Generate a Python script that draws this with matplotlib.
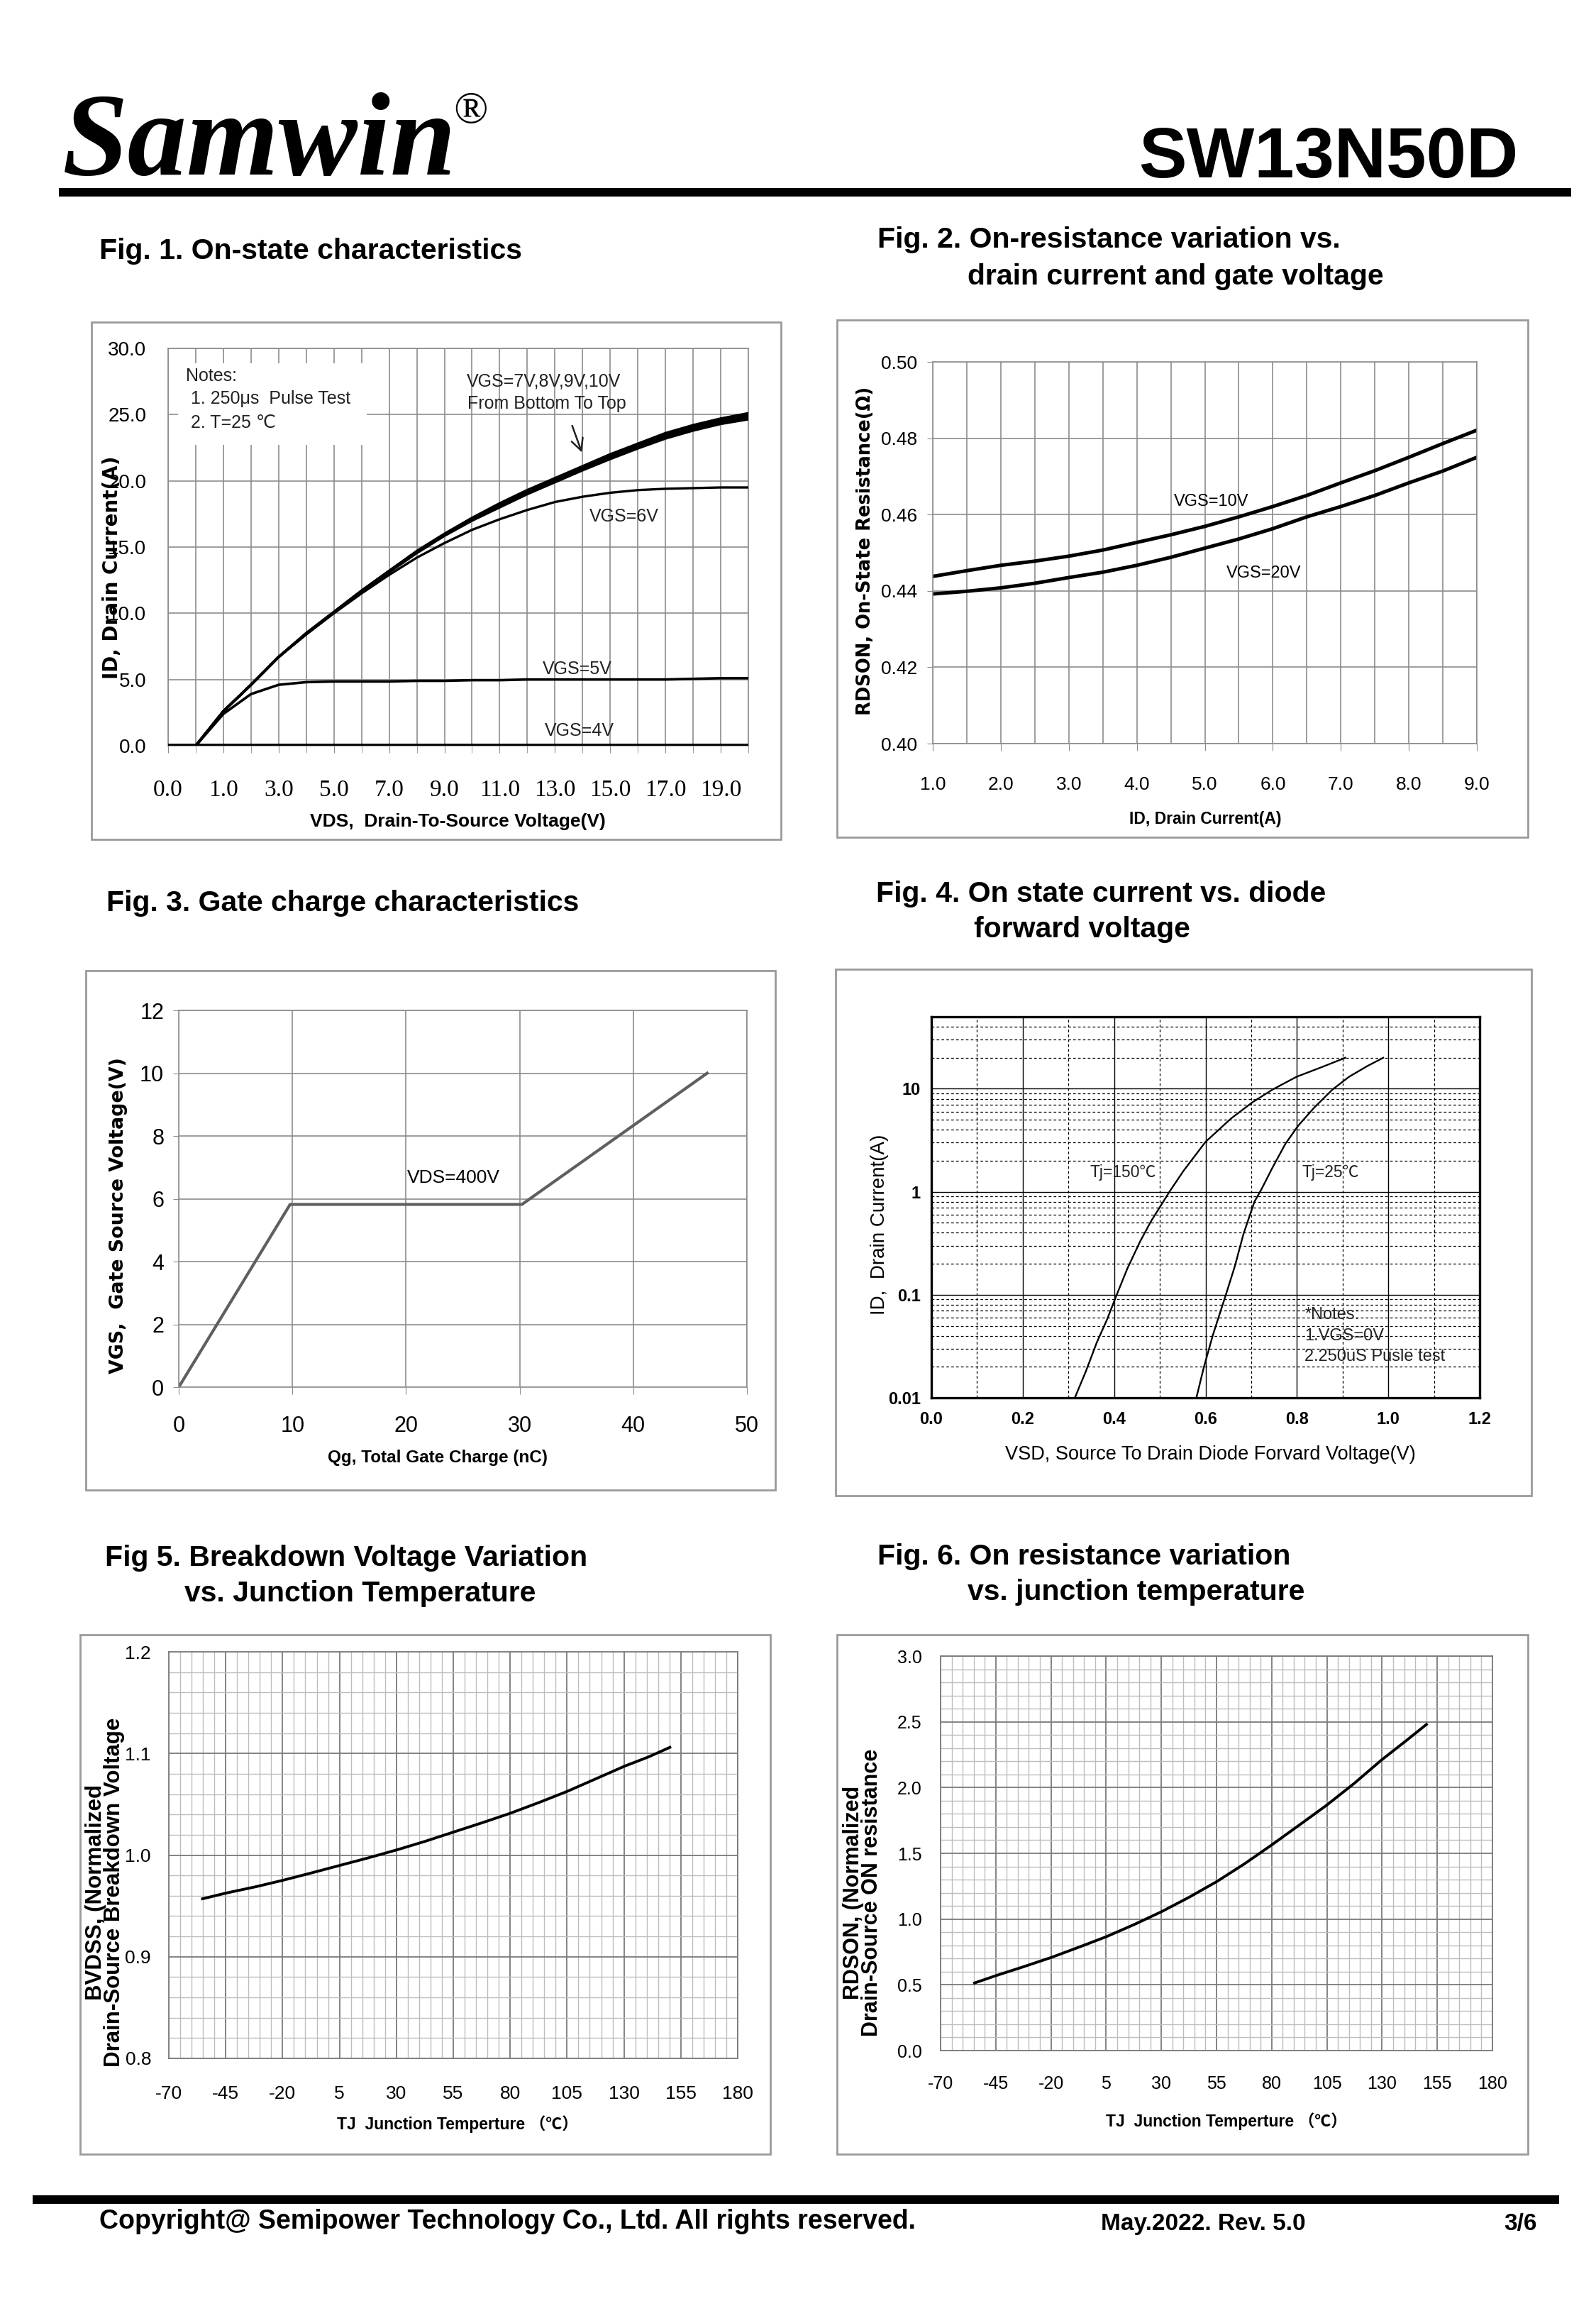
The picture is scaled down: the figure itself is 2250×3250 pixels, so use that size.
import matplotlib
matplotlib.use("Agg")
import matplotlib.pyplot as plt
from matplotlib.patches import Rectangle
from matplotlib.ticker import MultipleLocator, FixedLocator, NullFormatter

# ---- data ----
# Fig 1: Excel category axis, positions 0..21, labels on every second slot
fig1_pos = [0, 1, 2, 3, 4, 5, 6, 7, 8, 9, 10, 11, 12, 13, 14, 15, 16, 17, 18, 19, 20, 21]
fig1_tick_pos = [0, 2, 4, 6, 8, 10, 12, 14, 16, 18, 20]
fig1_tick_labels = ["0.0", "1.0", "3.0", "5.0", "7.0", "9.0", "11.0", "13.0", "15.0", "17.0", "19.0"]
id_vgs10 = [0, 0, 2.6, 4.6, 6.7, 8.5, 10.1, 11.7, 13.2, 14.7, 16.0, 17.2, 18.3, 19.3, 20.2, 21.1, 22.0, 22.8, 23.6, 24.2, 24.7, 25.1]
id_vgs9 = [0, 0, 2.6, 4.6, 6.7, 8.5, 10.1, 11.7, 13.2, 14.65, 15.95, 17.1, 18.2, 19.2, 20.1, 21.0, 21.85, 22.65, 23.45, 24.05, 24.55, 24.95]
id_vgs8 = [0, 0, 2.6, 4.6, 6.7, 8.45, 10.05, 11.65, 13.15, 14.6, 15.9, 17.05, 18.1, 19.1, 20.0, 20.9, 21.75, 22.55, 23.35, 23.95, 24.45, 24.8]
id_vgs7 = [0, 0, 2.6, 4.6, 6.7, 8.45, 10.05, 11.6, 13.1, 14.55, 15.85, 17.0, 18.0, 19.0, 19.9, 20.8, 21.65, 22.45, 23.2, 23.8, 24.3, 24.65]
id_vgs6 = [0, 0, 2.6, 4.6, 6.7, 8.4, 10.0, 11.5, 12.9, 14.2, 15.3, 16.3, 17.1, 17.8, 18.4, 18.8, 19.1, 19.3, 19.4, 19.45, 19.5, 19.5]
id_vgs5 = [0, 0, 2.4, 3.9, 4.6, 4.8, 4.85, 4.85, 4.85, 4.9, 4.9, 4.95, 4.95, 5.0, 5.0, 5.0, 5.0, 5.0, 5.0, 5.05, 5.1, 5.1]
vgs4_pos = [0, 21]
id_vgs4 = [0.05, 0.05]

# Fig 2: RDS(on) vs ID
fig2_id = [1.0, 1.5, 2.0, 2.5, 3.0, 3.5, 4.0, 4.5, 5.0, 5.5, 6.0, 6.5, 7.0, 7.5, 8.0, 8.5, 9.0]
rds_vgs10 = [0.4438, 0.4453, 0.4467, 0.4478, 0.4491, 0.4507, 0.4527, 0.4547, 0.4569, 0.4594,
             0.4621, 0.4650, 0.4683, 0.4715, 0.4750, 0.4786, 0.4821]
rds_vgs20 = [0.4392, 0.4399, 0.4408, 0.4420, 0.4435, 0.4449, 0.4467, 0.4488, 0.4512, 0.4536,
             0.4563, 0.4594, 0.4621, 0.4650, 0.4683, 0.4714, 0.4750]

# Fig 3: gate charge
qg = [0, 9.8, 30.2, 46.5]
vgs_qg = [0, 5.82, 5.82, 10.0]

# Fig 4: body diode
vsd_150 = [0.314, 0.338, 0.362, 0.385, 0.405, 0.429, 0.457, 0.481, 0.501, 0.521, 0.552, 0.600,
           0.656, 0.703, 0.747, 0.799, 0.854, 0.906]
isd_150 = [0.01, 0.018, 0.0344, 0.0582, 0.0984, 0.18, 0.33, 0.52, 0.72, 1.0, 1.6, 3.05,
           5.15, 7.41, 9.84, 13.06, 16.2, 20.0]
vsd_25 = [0.580, 0.596, 0.616, 0.644, 0.664, 0.683, 0.707, 0.723, 0.747, 0.775, 0.803, 0.838,
          0.878, 0.914, 0.954, 0.989]
isd_25 = [0.01, 0.0195, 0.0405, 0.0984, 0.188, 0.388, 0.80, 1.07, 1.73, 2.93, 4.39, 6.57,
          9.84, 13.06, 16.6, 20.0]

# Fig 5 / Fig 6: vs junction temperature
tj5 = [-55.2, -44.9, -31.5, -19.7, -6.9, 5.4, 17.7, 30.3, 42.3, 54.9, 67.7, 80.0, 93.1, 105.4,
       117.7, 130.3, 140.7, 150.2]
bvdss_norm = [0.957, 0.9626, 0.969, 0.9753, 0.9827, 0.990, 0.9973, 1.0052, 1.0133, 1.0225, 1.0318,
              1.0411, 1.0521, 1.063, 1.0751, 1.0875, 1.0965, 1.106]
tj6 = [-54.6, -44.7, -32.5, -19.7, -6.9, 5.1, 17.9, 30.2, 42.6, 55.1, 67.4, 80.2, 92.6, 104.9,
       117.4, 129.7, 140.8, 150.1]
rdson_norm = [0.514, 0.571, 0.637, 0.709, 0.789, 0.866, 0.960, 1.057, 1.166, 1.285, 1.417, 1.566,
              1.716, 1.866, 2.032, 2.209, 2.355, 2.480]
tj_ticks = [-70, -45, -20, 5, 30, 55, 80, 105, 130, 155, 180]
tj_labels = ["-70", "-45", "-20", "5", "30", "55", "80", "105", "130", "155", "180"]

W, H = 2250, 3250
ARIAL = ["Liberation Sans", "DejaVu Sans", "Noto Sans CJK SC"]
CJK = ["Liberation Sans", "Noto Sans CJK SC"]
VERD = ["DejaVu Sans"]
GRID = "#8c8c8c"
TXT = "#222222"

plt.rcParams["font.family"] = ARIAL

fig = plt.figure(figsize=(W / 100, H / 100), dpi=100)


def box(x0, y0, x1, y1):
    return [x0 / W, 1 - y1 / H, (x1 - x0) / W, (y1 - y0) / H]


def ftext(x, y, s, **kw):
    kw.setdefault("va", "center")
    return fig.text(x / W, 1 - y / H, s, **kw)


def frame(x0, y0, x1, y1, color="#9a9a9a", lw=2.0, fill=False):
    fig.add_artist(Rectangle((x0 / W, 1 - y1 / H), (x1 - x0) / W, (y1 - y0) / H,
                             transform=fig.transFigure, fill=fill, ec=color,
                             fc=color if fill else "none", lw=lw))


def spines(ax, color, lw=1.2):
    for sp in ax.spines.values():
        sp.set_color(color)
        sp.set_linewidth(lw)


# ---- header / footer ----
ftext(88, 246, "Samwin", family="Liberation Serif", weight="bold", style="italic",
      size=120, va="baseline")
ftext(664, 158, "\u00ae", family="Liberation Serif", size=46, ha="center")
ftext(2140, 250, "SW13N50D", weight="bold", size=73, ha="right", va="baseline")
frame(83, 265, 2215, 277, color="black", lw=0, fill=True)
frame(46, 3094, 2198, 3106, color="black", lw=0, fill=True)
ftext(140, 3131, "Copyright@ Semipower Technology Co., Ltd. All rights reserved.", weight="bold", size=27)
ftext(1552, 3135, "May.2022. Rev. 5.0", weight="bold", size=24)
ftext(2167, 3135, "3/6", weight="bold", size=24, ha="right")

# ---- figure titles ----
TS = 29.5
ftext(140, 354, "Fig. 1. On-state characteristics", weight="bold", size=TS)
ftext(1237, 338, "Fig. 2. On-resistance variation vs.", weight="bold", size=TS)
ftext(1364, 390, "drain current and gate voltage", weight="bold", size=TS)
ftext(150, 1273, "Fig. 3. Gate charge characteristics", weight="bold", size=TS)
ftext(1235, 1260, "Fig. 4. On state current vs. diode", weight="bold", size=TS)
ftext(1373, 1310, "forward voltage", weight="bold", size=TS)
ftext(148, 2196, "Fig 5. Breakdown Voltage Variation", weight="bold", size=TS)
ftext(260, 2246, "vs. Junction Temperature", weight="bold", size=TS)
ftext(1237, 2194, "Fig. 6. On resistance variation", weight="bold", size=TS)
ftext(1364, 2244, "vs. junction temperature", weight="bold", size=TS)

# frames around each chart
frame(129, 454, 1101, 1183)
frame(1180, 451, 2154, 1180)
frame(121, 1368, 1093, 2100)
frame(1178, 1366, 2159, 2108)
frame(113, 2304, 1086, 3036)
frame(1180, 2304, 2154, 3036)

# ---- Fig 1 ----
ax1 = fig.add_axes(box(237, 491, 1055, 1051))
ax1.set_xlim(0, 21)
ax1.set_ylim(0, 30)
ax1.set_xticks(fig1_tick_pos)
ax1.set_xticklabels(fig1_tick_labels, family="Liberation Serif", size=24)
ax1.xaxis.set_minor_locator(MultipleLocator(1))
ax1.set_yticks([0, 5, 10, 15, 20, 25, 30])
ax1.set_yticklabels(["0.0", "5.0", "10.0", "15.0", "20.0", "25.0", "30.0"], size=20)
ax1.grid(which="both", color=GRID, lw=1.2)
ax1.tick_params(axis="x", which="both", length=7, color=GRID, direction="out", pad=27)
ax1.tick_params(axis="y", length=0, pad=22)
spines(ax1, GRID)
ax1.set_axisbelow(True)
ax1.add_patch(Rectangle((0.36, 22.7), 6.84, 6.2, fc="white", ec="none", zorder=1.5))
for ys in (id_vgs7, id_vgs8, id_vgs9, id_vgs10):
    ax1.plot(fig1_pos, ys, color="black", lw=2.6, zorder=3)
ax1.plot(fig1_pos, id_vgs6, color="black", lw=2.4, zorder=3)
ax1.plot(fig1_pos, id_vgs5, color="black", lw=2.6, zorder=3)
ax1.plot(vgs4_pos, id_vgs4, color="black", lw=2.6, zorder=3)
ax1.text(0.64, 27.9, "Notes:", size=18, color=TXT, va="center", zorder=4)
ax1.text(0.64, 26.2, " 1. 250\u03bcs  Pulse Test", size=18, color=TXT, va="center", zorder=4)
ax1.text(0.64, 24.4, " 2. T=25 \u2103", size=18, color=TXT, va="center", zorder=4)
ax1.text(13.6, 27.5, "VGS=7V,8V,9V,10V", size=18, color=TXT, ha="center", va="center")
ax1.text(13.7, 25.8, "From Bottom To Top", size=18, color=TXT, ha="center", va="center")
ax1.annotate("", xy=(15.0, 22.0), xytext=(14.6, 24.3),
             arrowprops=dict(arrowstyle="->", color=TXT, lw=1.8, mutation_scale=30))
ax1.text(16.5, 17.3, "VGS=6V", size=18, color=TXT, ha="center", va="center")
ax1.text(14.8, 5.8, "VGS=5V", size=18, color=TXT, ha="center", va="center")
ax1.text(14.9, 1.1, "VGS=4V", size=18, color=TXT, ha="center", va="center")
ftext(158, 800, "ID, Drain Current(A)", family=VERD, weight="bold", size=20, rotation=90, ha="center")
ftext(645, 1158, "VDS,  Drain-To-Source Voltage(V)", weight="bold", size=19, ha="center")

# ---- Fig 2 ----
ax2 = fig.add_axes(box(1315, 510, 2082, 1048))
ax2.set_xlim(1, 9)
ax2.set_ylim(0.40, 0.50)
ax2.set_xticks([1, 2, 3, 4, 5, 6, 7, 8, 9])
ax2.set_xticklabels(["1.0", "2.0", "3.0", "4.0", "5.0", "6.0", "7.0", "8.0", "9.0"], size=19)
ax2.xaxis.set_minor_locator(MultipleLocator(0.5))
ax2.set_yticks([0.40, 0.42, 0.44, 0.46, 0.48, 0.50])
ax2.set_yticklabels(["0.40", "0.42", "0.44", "0.46", "0.48", "0.50"], size=19)
ax2.grid(which="both", color=GRID, lw=1.2)
ax2.tick_params(axis="x", which="major", length=7, color=GRID, pad=26)
ax2.tick_params(axis="x", which="minor", length=0)
ax2.tick_params(axis="y", length=6, color=GRID, pad=10)
spines(ax2, GRID)
ax2.set_axisbelow(True)
ax2.plot(fig2_id, rds_vgs10, color="black", lw=3.6)
ax2.plot(fig2_id, rds_vgs20, color="black", lw=3.6)
ax2.text(5.1, 0.4634, "VGS=10V", size=17, ha="center", va="center")
ax2.text(5.87, 0.4446, "VGS=20V", size=17, ha="center", va="center")
ftext(1220, 776, "RDSON, On-State Resistance(\u03a9)", family=VERD, weight="bold", size=18.5, rotation=90, ha="center")
ftext(1699, 1154, "ID, Drain Current(A)", weight="bold", size=16.5, ha="center")

# ---- Fig 3 ----
ax3 = fig.add_axes(box(252, 1424, 1053, 1955))
ax3.set_xlim(0, 50)
ax3.set_ylim(0, 12)
ax3.set_xticks([0, 10, 20, 30, 40, 50])
ax3.set_xticklabels(["0", "10", "20", "30", "40", "50"], size=22)
ax3.set_yticks([0, 2, 4, 6, 8, 10, 12])
ax3.set_yticklabels(["0", "2", "4", "6", "8", "10", "12"], size=22)
ax3.grid(color=GRID, lw=1.2)
ax3.tick_params(axis="x", length=7, color=GRID, pad=22)
ax3.tick_params(axis="y", length=6, color=GRID, pad=9)
spines(ax3, GRID)
ax3.set_axisbelow(True)
ax3.plot(qg, vgs_qg, color="#5f5f5f", lw=3.0, solid_joinstyle="miter")
ax3.text(24.2, 6.66, "VDS=400V", size=19, ha="center", va="center")
ftext(167, 1713, "VGS,  Gate Source Voltage(V)", family=VERD, weight="bold", size=19.4, rotation=90, ha="center")
ftext(617, 2055, "Qg, Total Gate Charge (nC)", weight="bold", size=17.5, ha="center")

# ---- Fig 4 ----
ax4 = fig.add_axes(box(1313, 1433, 2086, 1970))
ax4.set_yscale("log")
ax4.set_xlim(0, 1.2)
ax4.set_ylim(0.01, 50)
ax4.set_xticks([0, 0.2, 0.4, 0.6, 0.8, 1.0, 1.2])
ax4.set_xticklabels(["0.0", "0.2", "0.4", "0.6", "0.8", "1.0", "1.2"], weight="bold", size=17)
ax4.xaxis.set_minor_locator(MultipleLocator(0.1))
ax4.set_yticks([0.01, 0.1, 1, 10])
ax4.set_yticklabels(["0.01", "0.1", "1", "10"], weight="bold", size=17)
ax4.yaxis.set_minor_locator(FixedLocator(
    [m * d for d in (0.01, 0.1, 1, 10) for m in (2, 3, 4, 5, 6, 7, 8, 9)]))
ax4.yaxis.set_minor_formatter(NullFormatter())
ax4.grid(which="major", color="black", lw=1.0)
ax4.grid(which="minor", color="black", lw=0.9, ls=(0, (3, 2.5)))
ax4.tick_params(which="both", length=0)
ax4.tick_params(axis="x", pad=14)
ax4.tick_params(axis="y", pad=11)
spines(ax4, "black", lw=2.4)
ax4.set_axisbelow(True)
ax4.plot(vsd_150, isd_150, color="black", lw=1.7)
ax4.plot(vsd_25, isd_25, color="black", lw=1.7)
ax4.text(0.42, 1.53, "Tj=150\u2103", family=CJK, size=16.5, ha="center", va="center", color=TXT)
ax4.text(0.873, 1.55, "Tj=25\u2103", family=CJK, size=16.5, ha="center", va="center", color=TXT)
ax4.text(0.817, 0.064, "*Notes:", size=17, va="center", color=TXT)
ax4.text(0.817, 0.0398, "1.VGS=0V", size=17, va="center", color=TXT)
ax4.text(0.817, 0.0251, "2.250uS Pusle test", size=17, va="center", color=TXT)
ftext(1240, 1726, "ID,  Drain Current(A)", size=20, rotation=90, ha="center")
ftext(1706, 2050, "VSD, Source To Drain Diode Forvard Voltage(V)", size=19.5, ha="center")


# ---- Fig 5 / Fig 6 ----
def temp_axes(rect, ylim, yticks, ylabels, yminor, size):
    ax = fig.add_axes(rect)
    ax.set_xlim(-70, 180)
    ax.set_ylim(*ylim)
    ax.set_xticks(tj_ticks)
    ax.set_xticklabels(tj_labels, size=size)
    ax.xaxis.set_minor_locator(MultipleLocator(5))
    ax.set_yticks(yticks)
    ax.set_yticklabels(ylabels, size=size)
    ax.yaxis.set_minor_locator(MultipleLocator(yminor))
    ax.grid(which="major", color="#7a7a7a", lw=1.3)
    ax.grid(which="minor", color="#bdbdbd", lw=1.0)
    ax.tick_params(which="both", length=0)
    spines(ax, "#7a7a7a", lw=1.3)
    ax.set_axisbelow(True)
    return ax


ax5 = temp_axes(box(238, 2328, 1040, 2901), (0.8, 1.2), [0.8, 0.9, 1.0, 1.1, 1.2],
                ["0.8", "0.9", "1.0", "1.1", "1.2"], 0.02, 19)
ax5.tick_params(axis="y", pad=18)
ax5.tick_params(axis="x", pad=27)
ax5.plot(tj5, bvdss_norm, color="black", lw=2.8)
ftext(148, 2667, "BVDSS, (Normalized\nDrain-Source Breakdown Voltage", weight="bold", size=22.5,
      rotation=90, ha="center", multialignment="center", linespacing=0.85)
ftext(645, 2994, "TJ  Junction Temperture \uff08\u2103\uff09", family=CJK, weight="bold", size=16.5, ha="center")

ax6 = temp_axes(box(1326, 2334, 2104, 2890), (0, 3), [0, 0.5, 1.0, 1.5, 2.0, 2.5, 3.0],
                ["0.0", "0.5", "1.0", "1.5", "2.0", "2.5", "3.0"], 0.1, 18)
ax6.tick_params(axis="y", pad=19)
ax6.tick_params(axis="x", pad=25)
ax6.plot(tj6, rdson_norm, color="black", lw=2.8)
ftext(1216, 2667, "RDSON, (Normalized\nDrain-Source ON resistance", weight="bold", size=22,
      rotation=90, ha="center", multialignment="center", linespacing=0.85)
ftext(1729, 2990, "TJ  Junction Temperture \uff08\u2103\uff09", family=CJK, weight="bold", size=16.5, ha="center")

fig.savefig("out.png", dpi=100, facecolor="white")
